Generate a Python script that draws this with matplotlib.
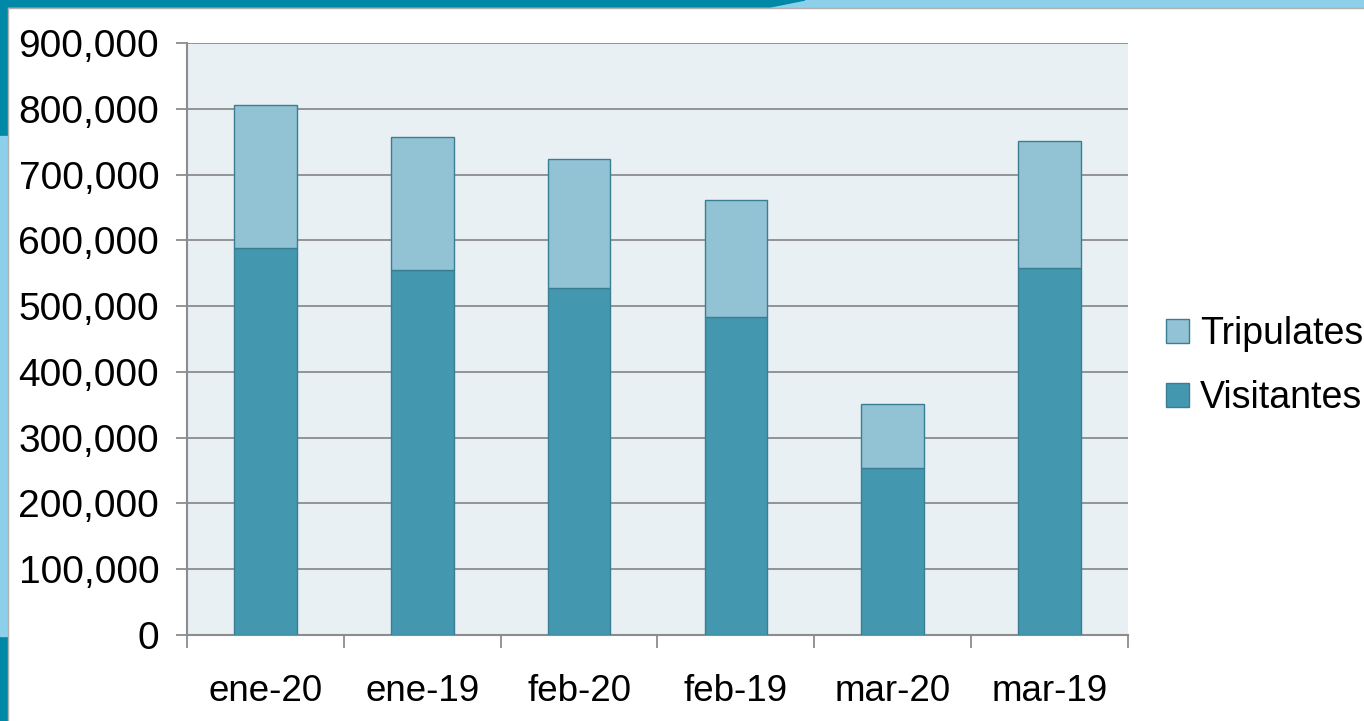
import matplotlib.pyplot as plt
from matplotlib.patches import Rectangle, Polygon
import numpy as np

# data
meses = ['ene-20', 'ene-19', 'feb-20', 'feb-19', 'mar-20', 'mar-19']
visitantes = [588300, 554900, 527500, 483400, 253900, 557900]
tripulates = [217400, 202200, 196100, 177900, 97300, 193100]

W, H = 1364, 721
fig = plt.figure(figsize=(W / 100, H / 100), dpi=100)
fig.patch.set_facecolor('white')

dark = '#0089A6'
light = '#8DD0EC'

# slide border decoration
fig.patches.append(Rectangle((0, 1 - 7 / H), 1, 7 / H, transform=fig.transFigure, color=light, zorder=0))
fig.patches.append(Polygon([(0, 1), (805 / W, 1), (770 / W, 1 - 7 / H), (0, 1 - 7 / H)],
                           closed=True, transform=fig.transFigure, color=dark, zorder=1))
fig.patches.append(Rectangle((0, 0), 7 / W, 1, transform=fig.transFigure, color=dark, zorder=0))
fig.patches.append(Rectangle((0, 1 - 636 / H), 7 / W, (636 - 136) / H, transform=fig.transFigure,
                             color=light, zorder=1))
fig.lines.append(plt.Line2D([8 / W, 8 / W], [0, 1 - 8 / H], transform=fig.transFigure, color='#b0b0b0', lw=1))
fig.lines.append(plt.Line2D([8 / W, 1], [1 - 8 / H, 1 - 8 / H], transform=fig.transFigure, color='#b0b0b0', lw=1))

ax = fig.add_axes([187 / W, 1 - 635 / H, (1128 - 187) / W, (635 - 43) / H])
ax.set_facecolor('#E8F0F4')

x = np.arange(len(meses))
b1 = ax.bar(x, visitantes, width=0.4, color='#4398B0', edgecolor='#3A7E94', linewidth=1, zorder=3,
            label='Visitantes')
b2 = ax.bar(x, tripulates, width=0.4, bottom=visitantes, color='#92C3D5', edgecolor='#3A7E94',
            linewidth=1, zorder=3, label='Tripulates')

ax.set_xlim(-0.5, len(meses) - 0.5)
ax.set_ylim(0, 900000)
ax.set_yticks(np.arange(0, 900001, 100000))
ax.set_yticklabels([f'{v:,.0f}' for v in np.arange(0, 900001, 100000)])
ax.yaxis.grid(True, color='#8c8c8c', linewidth=1.3, zorder=1)
ax.set_axisbelow(True)

ax.set_xticks(x)
ax.set_xticklabels(meses)
ax.set_xticks(np.arange(-0.5, len(meses), 1), minor=True)
ax.tick_params(axis='x', which='major', length=0, pad=28)
ax.tick_params(axis='x', which='minor', length=9, width=1.3, color='#8c8c8c')
ax.tick_params(axis='y', length=8, width=1.3, color='#8c8c8c', pad=12)

for lab in ax.get_xticklabels():
    lab.set_fontfamily('Liberation Sans')
    lab.set_fontsize(26.5)
for lab in ax.get_yticklabels():
    lab.set_fontfamily('Liberation Sans')
    lab.set_fontsize(28)

for s in ['top', 'right']:
    ax.spines[s].set_visible(False)
for s in ['left', 'bottom']:
    ax.spines[s].set_color('#8c8c8c')
    ax.spines[s].set_linewidth(1.5)

leg = fig.legend([b2, b1], ['Tripulates', 'Visitantes'], loc='center left',
                 bbox_to_anchor=(1166 / W, 1 - 366 / H), bbox_transform=fig.transFigure,
                 frameon=False, borderpad=0, borderaxespad=0,
                 handlelength=0.6, handleheight=0.6, handletextpad=0.3, labelspacing=0.75,
                 prop={'family': 'Liberation Sans', 'size': 27})

fig.savefig('out.png', dpi=100)
